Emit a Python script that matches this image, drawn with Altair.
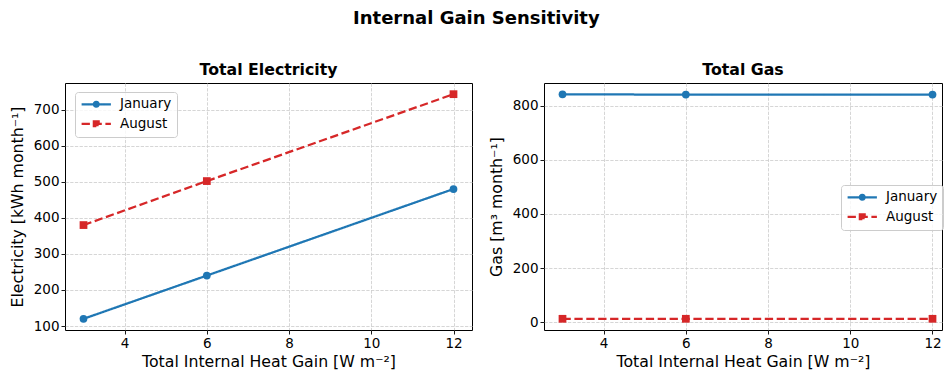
import altair as alt
import pandas as pd

# ---- data ----
gain = [3, 6, 12]
months = ["January", "August"]
elec_jan = [120, 240, 480]
elec_aug = [380, 502, 743]
gas_jan = [843, 842, 842]
gas_aug = [12, 12, 12]
colors = ["#1f77b4", "#d62728"]
marker_shapes = ["circle", "square"]
x_ticks = [4, 6, 8, 10, 12]
elec_ticks = [100, 200, 300, 400, 500, 600, 700]
gas_ticks = [0, 200, 400, 600, 800]

FONT = "DejaVu Sans"
DASH = [8.3, 3.6]
SOLID = [1, 0]
dashes = [SOLID, DASH]
PATH_JAN = "M-2.93,0H2.93M0.48,0A0.48,0.48,0,1,1,-0.48,0A0.48,0.48,0,1,1,0.48,0Z"
PATH_AUG = "M-2.93,0H2.93M-0.48,-0.48H0.48V0.48H-0.48Z"
PX_PER_UNIT = 407 / 9.9


def frame(jan, aug):
    return pd.DataFrame({
        "gain": gain + gain,
        "value": jan + aug,
        "month": [months[0]] * len(gain) + [months[1]] * len(gain),
    })


def legend(lx, ly):
    return alt.Legend(
        title=None, orient="none", legendX=lx, legendY=ly,
        labelFont=FONT, labelFontSize=13.5, labelColor="#000000",
        labelOffset=17, symbolOffset=9, padding=5.5, rowPadding=4.5,
        fillColor="rgba(255,255,255,0.8)", strokeColor="#cccccc", cornerRadius=3,
        symbolSize=100, symbolStrokeWidth=2.25, symbolOpacity=1,
    )


def panel(df, title, ytitle, ydom, yticks, lx, ly, width):
    mscale = lambda rng: alt.Scale(domain=months, range=rng)
    xmax = 2.55 + width / PX_PER_UNIT
    x = alt.X("gain:Q", scale=alt.Scale(domain=[2.55, xmax], nice=False, zero=False),
              axis=alt.Axis(values=x_ticks, title="Total Internal Heat Gain [W m⁻²]"))
    y = alt.Y("value:Q", scale=alt.Scale(domain=ydom, nice=False, zero=False),
              axis=alt.Axis(values=yticks, title=ytitle))
    base = alt.Chart(df)
    layers = []
    for m, c, d, s in zip(months, colors, dashes, marker_shapes):
        sub = base.transform_filter(alt.datum.month == m)
        layers.append(sub.mark_line(strokeWidth=2.25, color=c, strokeDash=d).encode(x=x, y=y))
        layers.append(sub.mark_point(filled=True, size=60, opacity=1, shape=s, color=c)
                      .encode(x=x, y=y))
    lg = legend(lx, ly)
    leg = base.transform_filter("false").mark_point(
        filled=True, size=100, strokeWidth=2.25, opacity=1
    ).encode(
        x=x, y=y,
        fill=alt.Fill("month:N", scale=mscale(colors), legend=lg),
        stroke=alt.Stroke("month:N", scale=mscale(colors), legend=lg),
        shape=alt.Shape("month:N", scale=mscale([PATH_JAN, PATH_AUG]), legend=lg),
        strokeDash=alt.StrokeDash("month:N", scale=mscale(dashes), legend=lg),
    )
    layers.append(leg)
    return alt.layer(*layers).properties(
        width=width, height=247,
        title=alt.TitleParams(title, font=FONT, fontSize=15.75, fontWeight="bold",
                              color="#000000", anchor="middle", offset=4),
    )


left = panel(frame(elec_jan, elec_aug), "Total Electricity", "Electricity [kWh month⁻¹]",
             [89, 774], elec_ticks, 10, 9, 407)
right = panel(frame(gas_jan, gas_aug), "Total Gas", "Gas [m³ month⁻¹]",
              [-29.5, 885], gas_ticks, 297, 102, 398)

chart = alt.hconcat(left, right, spacing=14).resolve_scale(
    strokeDash="independent", shape="independent",
    fill="independent", stroke="independent",
    x="independent", y="independent",
).resolve_legend(
    fill="independent", stroke="independent", shape="independent", strokeDash="independent"
).properties(
    title=alt.TitleParams("Internal Gain Sensitivity", font=FONT, fontSize=18,
                          fontWeight="bold", color="#000000", anchor="middle", offset=34),
    padding={"left": 8, "top": 9, "right": 0, "bottom": 0},
).configure_axis(
    labelFont=FONT, labelFontSize=13.5, labelColor="#000000",
    titleFont=FONT, titleFontSize=15.75, titleFontWeight="normal", titleColor="#000000",
    tickColor="#000000", tickSize=4, tickWidth=0.9, domain=False,
    grid=True, gridColor="#cccccc", gridDash=[3.3, 1.4], gridWidth=0.8,
    labelPadding=2,
).configure_axisX(titlePadding=5).configure_axisY(titlePadding=8).configure_view(
    stroke="#000000", strokeWidth=1
)

chart.save("out.html", embed_options={"renderer": "svg", "actions": False})
